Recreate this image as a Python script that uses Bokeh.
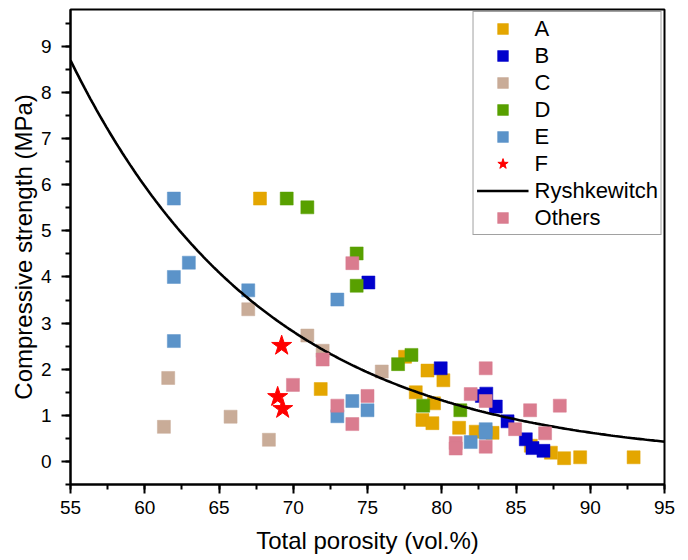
import numpy as np
from bokeh.plotting import figure
from bokeh.models import Legend, LegendItem, SingleIntervalTicker, Range1d
from bokeh.embed import file_html
from bokeh.resources import INLINE

# ---------------- data ----------------
a_x = [67.76, 71.85, 77.53, 79.04, 80.11, 78.25, 79.48, 78.70, 79.37, 81.17, 82.29, 83.42, 86.0, 87.35, 88.24, 89.32, 92.92]
a_y = [5.70, 1.57, 2.27, 1.97, 1.76, 1.50, 1.26, 0.90, 0.83, 0.73, 0.645, 0.62, 0.34, 0.19, 0.07, 0.09, 0.09]

b_x = [75.06, 79.93, 82.7, 83.0, 83.64, 84.43, 85.66, 86.11, 86.85]
b_y = [3.88, 2.02, 1.42, 1.47, 1.19, 0.87, 0.48, 0.29, 0.23]

c_x = [61.29, 61.58, 65.78, 66.97, 68.36, 70.95, 71.98, 75.96]
c_y = [0.75, 1.81, 0.97, 3.30, 0.47, 2.73, 2.40, 1.95]

d_x = [69.56, 70.95, 74.27, 74.27, 77.06, 77.96, 78.75, 81.25]
d_y = [5.70, 5.51, 4.51, 3.81, 2.11, 2.31, 1.21, 1.11]

e_x = [61.96, 62.97, 61.96, 66.97, 61.96, 72.97, 73.98, 72.97, 75.0, 81.95, 82.96, 82.96]
e_y = [5.70, 4.31, 4.00, 3.71, 2.61, 3.51, 1.31, 0.98, 1.11, 0.42, 0.70, 0.62]

f_x = [69.22, 68.95, 69.29]
f_y = [2.51, 1.40, 1.14]

o_x = [73.98, 71.98, 69.98, 72.97, 73.98, 75.0, 81.95, 82.96, 82.96, 80.94, 80.94, 82.96, 84.94, 85.95, 87.95, 86.96]
o_y = [4.30, 2.21, 1.66, 1.21, 0.81, 1.42, 1.46, 2.02, 1.31, 0.40, 0.28, 0.32, 0.70, 1.11, 1.21, 0.61]

# Ryshkewitch model sigma = sigma0 * exp(-b * P), parameters
RYSH_SIGMA0 = 544.0
RYSH_B = 0.0752
rysh_x = np.linspace(55, 95, 300)
rysh_y = RYSH_SIGMA0 * np.exp(-RYSH_B * rysh_x)

series_names = ["A", "B", "C", "D", "E", "F", "Ryshkewitch", "Others"]
colors = {
    "A": "#E4A600",
    "B": "#0000CC",
    "C": "#C9AC98",
    "D": "#58A000",
    "E": "#5B93C9",
    "F": "#FF0000",
    "Others": "#DA7C8F",
}

FONT = "Liberation Sans"

p = figure(width=688, height=560, output_backend="svg", toolbar_location=None,
           x_range=Range1d(55, 95), y_range=Range1d(-0.5, 9.8),
           min_border_left=70, min_border_right=24, min_border_top=9, min_border_bottom=76)

p.background_fill_color = "white"
p.border_fill_color = "white"
p.outline_line_color = "black"
p.outline_line_width = 2
p.xgrid.visible = False
p.ygrid.visible = False

p.xaxis.ticker = SingleIntervalTicker(interval=5, num_minor_ticks=2)
p.yaxis.ticker = SingleIntervalTicker(interval=1, num_minor_ticks=2)

for ax in (p.xaxis, p.yaxis):
    ax.axis_line_width = 2
    ax.axis_line_color = "black"
    ax.major_tick_line_width = 2
    ax.minor_tick_line_width = 2
    ax.major_tick_in = 0
    ax.major_tick_out = 9
    ax.minor_tick_in = 0
    ax.minor_tick_out = 5
    ax.major_label_text_font = FONT
    ax.major_label_text_font_size = "19px"
    ax.major_label_text_color = "black"
    ax.axis_label_text_font = FONT
    ax.axis_label_text_font_size = "24px"
    ax.axis_label_text_font_style = "normal"
    ax.axis_label_text_color = "black"

p.xaxis.axis_label = "Total porosity (vol.%)"
p.yaxis.axis_label = "Compressive strength (MPa)"
p.xaxis.major_label_standoff = 7
p.yaxis.major_label_standoff = 10
p.xaxis.axis_label_standoff = 10
p.yaxis.axis_label_standoff = 1

SQ = 13
rA = p.scatter(a_x, a_y, marker="square", size=SQ, fill_color=colors["A"], line_color=colors["A"], line_alpha=0.5)
rB = p.scatter(b_x, b_y, marker="square", size=SQ, fill_color=colors["B"], line_color=colors["B"], line_alpha=0.5)
rC = p.scatter(c_x, c_y, marker="square", size=SQ, fill_color=colors["C"], line_color=colors["C"], line_alpha=0.5)
rD = p.scatter(d_x, d_y, marker="square", size=SQ, fill_color=colors["D"], line_color=colors["D"], line_alpha=0.5)
rE = p.scatter(e_x, e_y, marker="square", size=SQ, fill_color=colors["E"], line_color=colors["E"], line_alpha=0.5)
rF = p.scatter(f_x, f_y, marker="star", size=21, fill_color=colors["F"], line_color=colors["F"])
rR = p.line(rysh_x, rysh_y, line_color="black", line_width=2.6)
rO = p.scatter(o_x, o_y, marker="square", size=SQ, fill_color=colors["Others"], line_color=colors["Others"], line_alpha=0.5)

renderers = [rA, rB, rC, rD, rE, rF, rR, rO]
items = [LegendItem(label=n, renderers=[r]) for n, r in zip(series_names, renderers)]
legend = Legend(items=items, location="top_right", margin=2,
                glyph_width=52, glyph_height=27, label_height=27, spacing=0,
                label_standoff=6, padding=3,
                label_text_font=FONT, label_text_font_size="22px", label_text_color="black",
                border_line_color="#444444", border_line_width=1,
                background_fill_color="white", background_fill_alpha=1.0)
p.add_layout(legend)

open("out.html", "w").write(file_html(p, INLINE))
